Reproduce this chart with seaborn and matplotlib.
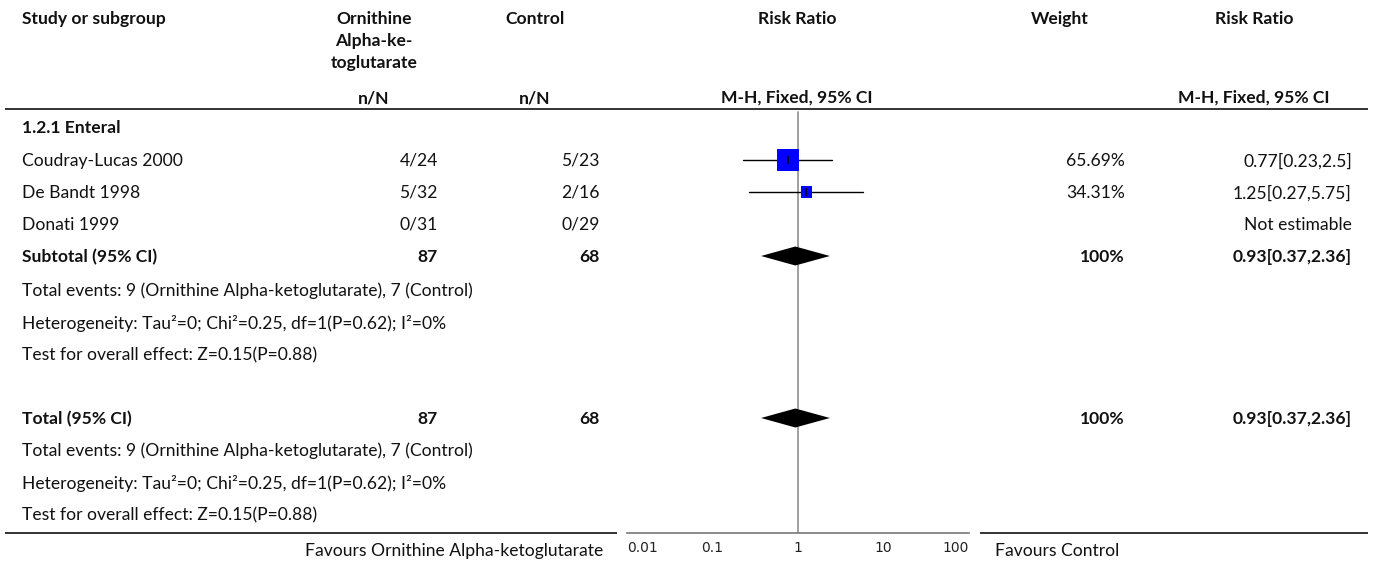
import matplotlib
matplotlib.use("Agg")
import matplotlib.pyplot as plt
import seaborn as sns
import pandas as pd
import numpy as np

# ---- data ----
studies = ["Coudray-Lucas 2000", "De Bandt 1998", "Donati 1999"]
oka_events = [4, 5, 0]
oka_total = [24, 32, 31]
ctl_events = [5, 2, 0]
ctl_total = [23, 16, 29]
rr = [0.77, 1.25, None]
rr_lo = [0.23, 0.27, None]
rr_hi = [2.5, 5.75, None]
weights = [65.69, 34.31, None]

pooled_rr = 0.93
pooled_lo = 0.37
pooled_hi = 2.36
pooled_weight = 100

axis_ticks = [0.01, 0.1, 1, 10, 100]
axis_ticklabels = ["0.01", "0.1", "1", "10", "100"]

subgroup_label = "1.2.1 Enteral"
events_text = "Total events: 9 (Ornithine Alpha-ketoglutarate), 7 (Control)"
het_text = "Heterogeneity: Tau\u00b2=0; Chi\u00b2=0.25, df=1(P=0.62); I\u00b2=0%"
effect_text = "Test for overall effect: Z=0.15(P=0.88)"
favours_left = "Favours Ornithine Alpha-ketoglutarate"
favours_right = "Favours Control"

# ---- style ----
sns.set_theme(style="white")
FONT = ["Lato", "DejaVu Sans"]
plt.rcParams["font.family"] = FONT

W, H = 1373, 563
fig = plt.figure(figsize=(W / 100, H / 100), dpi=100)
fig.patch.set_facecolor("white")

# table layer in pixel coordinates
bg = fig.add_axes([0, 0, 1, 1])
bg.set_xlim(0, W)
bg.set_ylim(H, 0)
bg.axis("off")

FS = 12.6
DY = 1.0
X_NAME = 22
X_OKA_C, X_OKA_R = 374, 438
X_CTL_C, X_CTL_R = 535, 600
X_RR_C = 797
X_W_C, X_W_R = 1060, 1125
X_RRT_C, X_RRT_R = 1254, 1352


def txt(x, y, s, ha="left", bold=False, size=FS):
    bg.text(x, y + DY, s, ha=ha, va="center", fontsize=size,
            fontweight="bold" if bold else "normal", color="#111111")


# header
txt(X_NAME, 18, "Study or subgroup", bold=True)
for i, line in enumerate(["Ornithine", "Alpha-ke-", "toglutarate"]):
    txt(X_OKA_C, 18 + 22 * i, line, ha="center", bold=True)
txt(X_CTL_C, 18, "Control", ha="center", bold=True)
txt(X_RR_C, 18, "Risk Ratio", ha="center", bold=True)
txt(X_W_C, 18, "Weight", ha="center", bold=True)
txt(X_RRT_C, 18, "Risk Ratio", ha="center", bold=True)
txt(X_OKA_C, 97, "n/N", ha="center", bold=True)
txt(X_CTL_C, 97, "n/N", ha="center", bold=True)
txt(X_RR_C, 97, "M-H, Fixed, 95% CI", ha="center", bold=True)
txt(X_RRT_C, 97, "M-H, Fixed, 95% CI", ha="center", bold=True)

bg.plot([5, 1368], [108.5, 108.5], color="#333333", lw=1.4, solid_capstyle="butt")
bg.plot([5, 617], [533, 533], color="#333333", lw=1.4, solid_capstyle="butt")
bg.plot([980, 1368], [533, 533], color="#333333", lw=1.4, solid_capstyle="butt")

ROW_SUB = 127
study_rows = [160, 192, 224]
ROW_SUBTOTAL = 256
sub_notes = [290, 322, 354]
ROW_TOTAL = 418
tot_notes = [450, 482, 514]


def fmt_ci(v, lo, hi):
    return f"{v:g}[{lo:g},{hi:g}]"


txt(X_NAME, ROW_SUB, subgroup_label, bold=True)
for i, name in enumerate(studies):
    y = study_rows[i]
    txt(X_NAME, y, name)
    txt(X_OKA_R, y, f"{oka_events[i]}/{oka_total[i]}", ha="right")
    txt(X_CTL_R, y, f"{ctl_events[i]}/{ctl_total[i]}", ha="right")
    if weights[i] is not None:
        txt(X_W_R, y, f"{weights[i]:.2f}%", ha="right")
        txt(X_RRT_R, y, fmt_ci(rr[i], rr_lo[i], rr_hi[i]), ha="right")
    else:
        txt(X_RRT_R, y, "Not estimable", ha="right")

for y, label in [(ROW_SUBTOTAL, "Subtotal (95% CI)"), (ROW_TOTAL, "Total (95% CI)")]:
    txt(X_NAME, y, label, bold=True)
    txt(X_OKA_R, y, f"{sum(oka_total)}", ha="right", bold=True)
    txt(X_CTL_R, y, f"{sum(ctl_total)}", ha="right", bold=True)
    txt(X_W_R, y, f"{pooled_weight}%", ha="right", bold=True)
    txt(X_RRT_R, y, fmt_ci(pooled_rr, pooled_lo, pooled_hi), ha="right", bold=True)

for rows in (sub_notes, tot_notes):
    for y, s in zip(rows, [events_text, het_text, effect_text]):
        txt(X_NAME, y, s)

txt(603, 550, favours_left, ha="right")
txt(995, 550, favours_right, ha="left")

# ---- forest plot axis (log scale, y in pixel rows) ----
AX_L, AX_R, AX_T, AX_B = 627, 969, 108, 533
fa = fig.add_axes([AX_L / W, (H - AX_B) / H, (AX_R - AX_L) / W, (AX_B - AX_T) / H])
fa.set_xscale("log")
fa.set_xlim(0.01, 100)
fa.set_ylim(AX_B, AX_T)
fa.patch.set_alpha(0)
for side in ("left", "top", "right"):
    fa.spines[side].set_visible(False)
fa.spines["bottom"].set_color("#777777")
fa.spines["bottom"].set_linewidth(1.2)
fa.set_yticks([])
fa.set_xticks(axis_ticks)
labels = fa.set_xticklabels(axis_ticklabels, fontfamily="DejaVu Sans", fontsize=10,
                            color="#222222")
# end labels stay inside the axis span
labels[0].set_horizontalalignment("left")
labels[-1].set_horizontalalignment("right")
fa.minorticks_off()
fa.tick_params(axis="x", direction="in", length=3, width=0.8, color="#555555", pad=6)
fa.grid(False)

# line of no effect
fa.axvline(1, ymin=0, ymax=(AX_B - 112) / (AX_B - AX_T), color="#999999", lw=1.3, zorder=1)

df = pd.DataFrame({"study": studies, "rr": rr, "lo": rr_lo, "hi": rr_hi,
                   "weight": weights, "y": study_rows}).dropna()

# confidence intervals
for _, r in df.iterrows():
    fa.plot([r.lo, r.hi], [r.y, r.y], color="black", lw=1.0, zorder=2)

# weighted squares: side in pixels proportional to weight
side_px = df["weight"] * 0.335
size_map = {w: (s * 0.72) ** 2 for w, s in zip(df["weight"], side_px)}
sns.scatterplot(data=df, x="rr", y="y", size="weight", sizes=size_map, marker="s",
                color="#0000ff", linewidth=0, legend=False, ax=fa, zorder=3)
fa.scatter(df["rr"], df["y"], marker="|", s=40, color="black", linewidths=1.2, zorder=4)
fa.set_xlabel("")
fa.set_ylabel("")

# pooled diamonds
for y in (ROW_SUBTOTAL, ROW_TOTAL):
    fa.fill([pooled_lo, pooled_rr, pooled_hi, pooled_rr],
            [y, y - 9.5, y, y + 9.5], color="black", lw=0, zorder=3)

fig.savefig("out.png", dpi=100, facecolor="white")
